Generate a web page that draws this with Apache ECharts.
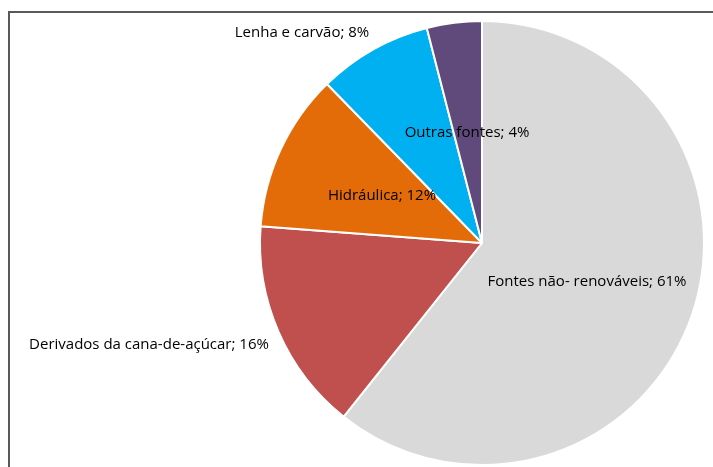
<!DOCTYPE html>
<html lang="pt">
<head>
  <meta charset="UTF-8">
  <title>Matriz energética</title>
  <style>
    html, body { margin: 0; padding: 0; background: #fff; }
  </style>
</head>
<body>
  <div class="wrapper" style="width:713px;height:467px;"></div>

  <script src="https://cdn.jsdelivr.net/npm/echarts@6/dist/echarts.min.js"></script>
  <script>
    const categories = ['Fontes não- renováveis', 'Derivados da cana-de-açúcar', 'Hidráulica', 'Lenha e carvão', 'Outras fontes']
    const values = [60.7, 15.5, 11.5, 8.3, 4.0]
    const colors = ['#d9d9d9', '#c0504d', '#e36c09', '#00b0f0', '#604a7b']

    // label centres
    const labelPos = [[587, 282], [149, 345], [382, 196], [302, 33], [467, 133]]

    const echart = echarts.init(document.querySelector('.wrapper'))
    const option = {
      animation: false,
      graphic: [{
        type: 'rect',
        shape: { x: 9, y: 12, width: 720, height: 470 },
        style: { fill: 'none', stroke: '#595959', lineWidth: 2 }
      }],
      series: [{
        type: 'pie',
        center: [482, 243],
        radius: 222,
        startAngle: 90,
        clockwise: true,
        data: categories.map((name, i) => ({
          name: name,
          value: values[i],
          itemStyle: { color: colors[i] }
        })),
        itemStyle: { borderColor: '#fff', borderWidth: 2 },
        label: {
          show: true,
          position: 'inside',
          formatter: p => p.name + '; ' + Math.round(p.value) + '%',
          fontFamily: '"Liberation Sans Narrow", "Open Sans", sans-serif',
          fontSize: 15,
          color: '#000'
        },
        labelLine: { show: false },
        labelLayout: p => ({
          x: labelPos[p.dataIndex][0],
          y: labelPos[p.dataIndex][1],
          align: 'center',
          verticalAlign: 'middle'
        })
      }]
    }
    echart.setOption(option)
  </script>
</body>
</html>
